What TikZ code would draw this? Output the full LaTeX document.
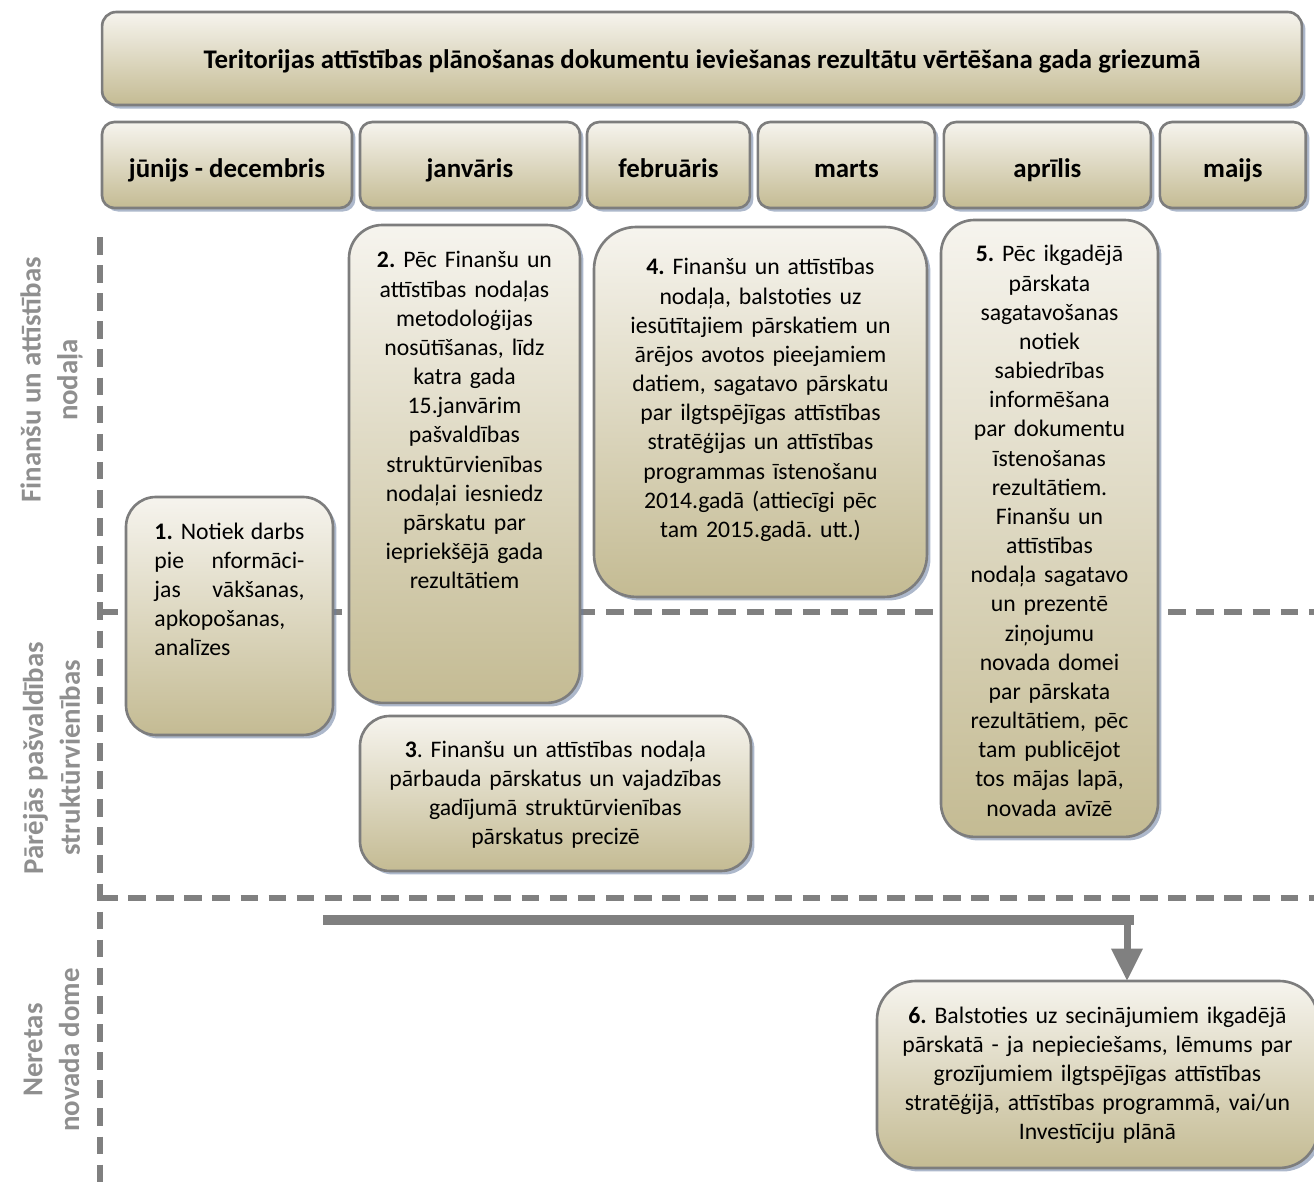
\documentclass[tikz,border=0pt]{standalone}
\usepackage{fontspec}
\setmainfont{Carlito}
\usepackage{tikz}
\usetikzlibrary{shapes,arrows.meta,positioning,calc,shadows}

\definecolor{boxtop}{RGB}{246,244,238}
\definecolor{boxbottom}{RGB}{196,187,147}
\definecolor{boxline}{RGB}{125,125,125}
\definecolor{lanegray}{RGB}{128,128,128}
\definecolor{lanetext}{RGB}{143,143,143}
\definecolor{shadowblue}{RGB}{105,125,160}

\begin{document}
\frenchspacing
\fontsize{13.5}{16.6}\selectfont
\begin{tikzpicture}[x=0.02cm, y=-0.02cm, node distance=0.16cm]
    % Define styles
    \tikzstyle{card} = [rectangle, draw=boxline, line width=1.5pt, outer sep=0pt, top color=boxtop, bottom color=boxbottom, drop shadow={shadow xshift=2pt, shadow yshift=-2pt, fill=shadowblue, opacity=0.55}]
    \tikzstyle{header} = [card, rounded corners=8pt, minimum height=1.86cm, text height=11.5pt, text depth=0.5pt, font=\fontsize{15.3}{18}\selectfont\bfseries]
    \tikzstyle{month} = [card, rounded corners=7pt, minimum height=1.72cm, text height=14.7pt, text depth=0pt, font=\fontsize{15.3}{18}\selectfont\bfseries]
    \tikzstyle{stepbox} = [card, rounded corners=19pt, inner sep=0pt, align=center, anchor=north west]
    \tikzstyle{lane} = [draw=lanegray, line width=3pt, dash pattern=on 10pt off 6pt]
    \tikzstyle{lanelabel} = [rotate=90, text=lanetext, align=center, font=\fontsize{16.4}{21}\selectfont\bfseries]
    \tikzstyle{flowbar} = [draw=lanegray, line width=5.5pt]
    \tikzstyle{flowarrow} = [draw=lanegray, line width=4pt, -{Triangle[width=0.6cm,length=0.65cm]}]

    \useasboundingbox (0,0) rectangle (1314,1183);

    % Lanes
    \coordinate (laneTop) at (100,237);
    \coordinate (laneBottom) at (100,1183);
    \coordinate (laneA) at (100,612);
    \coordinate (laneAend) at (1314,612);
    \coordinate (laneB) at (100,898);
    \coordinate (laneBend) at (1314,898);
    \draw [lane] (laneTop) -- (laneBottom);
    \draw [lane] (laneA) -- (laneAend);
    \draw [lane] (laneB) -- (laneBend);

    \node (finlane) [lanelabel] at (51.5,380) {Finanšu un attīstības\\nodaļa};
    \node (strlane) [lanelabel] at (51.5,758) {Pārējās pašvaldības\\struktūrvienības};
    \node (domelane) [lanelabel] at (51.5,1050) {Neretas\\novada dome};

    % Header and months
    \node (title) [header, minimum width=24cm] at (702,58.5) {Teritorijas attīstības plānošanas dokumentu ieviešanas rezultātu vērtēšana gada griezumā};
    \node (jun) [month, minimum width=5cm] at (227,165) {jūnijs - decembris};
    \node (jan) [month, minimum width=4.4cm, right=of jun] {janvāris};
    \node (feb) [month, minimum width=3.26cm, right=0.14cm of jan] {februāris};
    \node (mar) [month, minimum width=3.54cm, right=of feb] {marts};
    \node (apr) [month, minimum width=4.14cm, right=0.18cm of mar] {aprīlis};
    \node (mai) [month, minimum width=2.92cm, right=0.18cm of apr] {maijs};

    % Steps
    \node (step1) [stepbox, align=left, rounded corners=17pt, minimum width=4.14cm, text width=3cm, text height=0.84cm, text depth=3.92cm] at (126,497)
        {\makebox[3cm][l]{\textbf{1.} Notiek\hfill darbs}\\\makebox[3cm][l]{pie\hfill nformāci-}\\\makebox[3cm][l]{jas\hfill vākšanas,}\\apkopošanas,\\analīzes};
    \node (step2) [stepbox, minimum width=4.62cm, text width=4.3cm, text height=0.86cm, text depth=8.7cm] at (349,225)
        {\textbf{2.} Pēc Finanšu un\\attīstības nodaļas\\metodoloģijas\\nosūtīšanas, līdz\\katra gada\\15.janvārim\\pašvaldības\\struktūrvienības\\nodaļai iesniedz\\pārskatu par\\iepriekšējā gada\\rezultātiem};
    \node (step3) [stepbox, rounded corners=17pt, minimum width=7.82cm, text width=7.4cm, text height=0.82cm, text depth=2.28cm] at (360,716)
        {\textbf{3}. Finanšu un attīstības nodaļa\\pārbauda pārskatus un vajadzības\\gadījumā struktūrvienības\\pārskatus precizē};
    \node (step4) [stepbox, rounded corners=24pt, minimum width=6.66cm, text width=6.3cm, text height=0.96cm, text depth=6.44cm] at (594,227)
        {\textbf{4.} Finanšu un attīstības\\nodaļa, balstoties uz\\iesūtītajiem pārskatiem un\\ārējos avotos pieejamiem\\datiem, sagatavo pārskatu\\par ilgtspējīgas attīstības\\stratēģijas un attīstības\\programmas īstenošanu\\2014.gadā (attiecīgi pēc\\tam 2015.gadā. utt.)};
    \node (step5) [stepbox, minimum width=4.34cm, text width=4.1cm, text height=0.84cm, text depth=11.5cm] at (941,220)
        {\textbf{5.} Pēc ikgadējā\\pārskata\\sagatavošanas\\notiek\\sabiedrības\\informēšana\\par dokumentu\\īstenošanas\\rezultātiem.\\Finanšu un\\attīstības\\nodaļa sagatavo\\un prezentē\\ziņojumu\\novada domei\\par pārskata\\rezultātiem, pēc\\tam publicējot\\tos mājas lapā,\\novada avīzē};
    \node (step6) [stepbox, rounded corners=22pt, minimum width=8.82cm, text width=8.4cm, text height=0.84cm, text depth=2.9cm] at (877,981)
        {\textbf{6.} Balstoties uz secinājumiem ikgadējā\\pārskatā - ja nepieciešams, lēmums par\\grozījumiem ilgtspējīgas attīstības\\stratēģijā, attīstības programmā, vai/un\\Investīciju plānā};

    % Arrows
    \coordinate (flowstart) at (323,920);
    \coordinate (flowturn) at (1127,920);
    \coordinate (flowend) at (1134,920);
    \draw [flowbar] (flowstart) -- (flowend);
    \draw [flowarrow] (flowturn) -- (flowturn |- step6.north);
\end{tikzpicture}
\end{document}
